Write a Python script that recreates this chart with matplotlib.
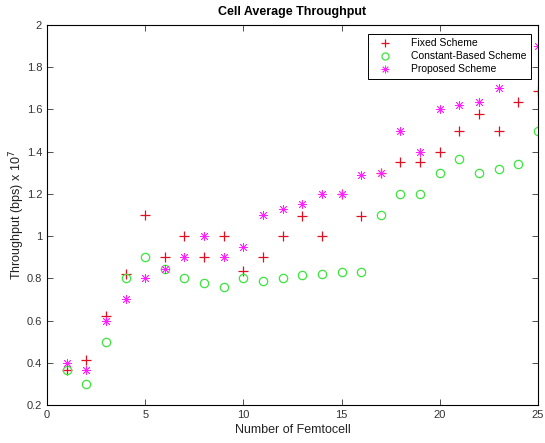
import numpy as np
import matplotlib
matplotlib.use("Agg")
import matplotlib.pyplot as plt
from matplotlib.ticker import FuncFormatter

# values (throughput in units of 1e7 bps)
femtocells = np.arange(1, 26)
fixed_scheme = [0.367, 0.414, 0.622, 0.822, 1.10, 0.90, 1.00, 0.90, 1.00, 0.833,
                0.90, 1.00, 1.096, 1.00, 1.20, 1.096, 1.30, 1.351, 1.351, 1.40,
                1.50, 1.579, 1.50, 1.634, 1.686]
constant_scheme = [0.367, 0.30, 0.50, 0.80, 0.90, 0.846, 0.80, 0.778, 0.757, 0.80,
                   0.789, 0.80, 0.816, 0.821, 0.829, 0.829, 1.10, 1.20, 1.20, 1.30,
                   1.364, 1.30, 1.319, 1.342, 1.50]
proposed_scheme = [0.40, 0.367, 0.60, 0.70, 0.80, 0.846, 0.90, 1.00, 0.90, 0.946,
                   1.10, 1.128, 1.152, 1.20, 1.20, 1.29, 1.30, 1.50, 1.40, 1.60,
                   1.619, 1.634, 1.702, 1.80, 1.902]

plt.rcParams['font.family'] = ['Liberation Sans', 'DejaVu Sans']

fig = plt.figure(figsize=(5.45, 4.43), dpi=100)
ax = fig.add_axes([0.0862, 0.0858, 0.9008, 0.8578])

# MATLAB-like markers: '+', hollow 'o', and a line asterisk
ax.plot(femtocells, fixed_scheme, '+', color='#e01020', markersize=7, mew=0.9,
        label='Fixed Scheme')
ax.plot(femtocells, constant_scheme, 'o', color='#3ce63c', mfc='none', markersize=6,
        mew=0.9, label='Constant-Based Scheme')
ax.plot(femtocells, proposed_scheme, marker=(8, 2, 0), ls='none', color='#ff22ff',
        markersize=6.5, mew=0.6, label='Proposed Scheme')

ax.set_xlim(0, 25)
ax.set_ylim(0.2, 2)
ax.set_xticks(np.arange(0, 26, 5))
ax.set_yticks(np.arange(0.2, 2.01, 0.2))
ax.yaxis.set_major_formatter(FuncFormatter(lambda v, p: '%g' % round(v, 2)))
ax.tick_params(direction='in', top=True, right=True, labelsize=8, length=4,
               width=0.6, colors='#333333')
for s in ax.spines.values():
    s.set_linewidth(0.8)

ax.set_title('Cell Average Throughput', fontsize=9, fontweight='bold', pad=7)
ax.set_xlabel('Number of Femtocell', fontsize=9, color='#222222', labelpad=3)
ax.set_ylabel(r'Throughput (bps) x 10$^7$', fontsize=9, color='#222222', labelpad=0)

leg = ax.legend(loc='upper right', bbox_to_anchor=(0.996, 0.99), fontsize=7.5,
                frameon=True, fancybox=False, edgecolor='black', framealpha=1,
                borderpad=0.4, labelspacing=0.3, handletextpad=1.3,
                handlelength=2.4, markerscale=0.85)
leg.get_frame().set_linewidth(0.7)
leg.set_zorder(10)

fig.savefig('out.png', dpi=100)
